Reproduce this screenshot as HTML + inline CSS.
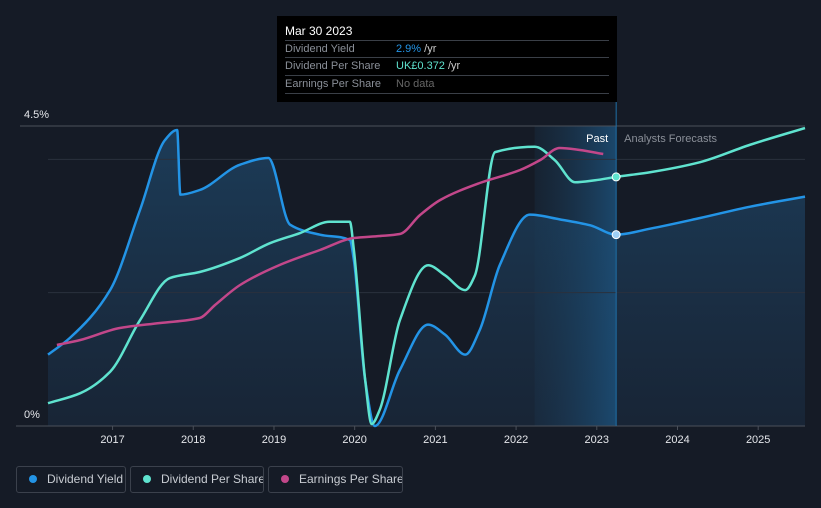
<!DOCTYPE html>
<html><head><meta charset="utf-8"><style>
html,body{margin:0;padding:0;background:#151b26;width:821px;height:508px;overflow:hidden;font-family:"Liberation Sans",sans-serif}
#wrap{position:relative;width:821px;height:508px}
.tip{position:absolute;left:277px;top:16px;width:340px;height:86px;background:#000;color:#fff;font-size:11px}
.tip .row{position:absolute;left:8px;width:324px;border-top:1px solid #3a3f47;height:17px;line-height:17px;color:#8a8f98}
.legend{position:absolute;top:466px;height:27px;border:1px solid #3b414c;border-radius:3px;color:#c8ccd2;font-size:12px;line-height:25px;box-sizing:border-box;white-space:nowrap;overflow:hidden}
.dot{display:inline-block;width:8px;height:8px;border-radius:50%;margin:0 10px 0 12px;vertical-align:0}
</style></head><body><div id="wrap">
<svg id="chart" width="821" height="508" style="position:absolute;left:0;top:0">
<defs>
<linearGradient id="yg" x1="0" y1="0" x2="0" y2="1"><stop offset="0" stop-color="#1f4a6e" stop-opacity="0.7"/><stop offset="1" stop-color="#1a2b40" stop-opacity="0.6"/></linearGradient>
<linearGradient id="fg" x1="0" y1="0" x2="1" y2="0"><stop offset="0" stop-color="#1b3a55" stop-opacity="0.25"/><stop offset="1" stop-color="#1c4f78" stop-opacity="0.85"/></linearGradient>
</defs>
<g id="g"></g>
</svg>
<div class="tip">
<div style="position:absolute;left:8px;top:8px;font-size:12px;color:#fff">Mar 30 2023</div>
<div class="row" style="top:24px">Dividend Yield<span style="position:absolute;left:111px"><span style="color:#2394e6">2.9%</span> <span style="color:#ccc">/yr</span></span></div>
<div class="row" style="top:41px">Dividend Per Share<span style="position:absolute;left:111px"><span style="color:#5fe3cf">UK£0.372</span> <span style="color:#ccc">/yr</span></span></div>
<div class="row" style="top:59px;border-bottom:1px solid #3a3f47">Earnings Per Share<span style="position:absolute;left:111px;color:#666">No data</span></div>
</div>
<div class="legend" style="left:16px;width:110px"><span class="dot" style="background:#2394e6"></span>Dividend Yield</div>
<div class="legend" style="left:130px;width:134px"><span class="dot" style="background:#5fe3cf"></span>Dividend Per Share</div>
<div class="legend" style="left:268px;width:135px"><span class="dot" style="background:#c2478a"></span>Earnings Per Share</div>
</div>
<script>
const yieldYears=[2016.20,2016.47,2016.97,2017.34,2017.65,2017.80,2017.84,2018.08,2018.58,2018.93,2019.20,2019.57,2019.94,2019.99,2020.13,2020.25,2020.56,2020.91,2021.12,2021.37,2021.55,2021.80,2022.17,2022.54,2022.92,2023.24,2023.66,2024.28,2024.90,2025.58];
const yieldValues=[1.07,1.32,2.04,3.24,4.29,4.44,3.47,3.54,3.92,4.02,3.02,2.87,2.79,2.49,0.69,0.0,0.84,1.52,1.37,1.07,1.44,2.42,3.17,3.10,3.01,2.87,2.96,3.12,3.29,3.44];
const dpsYears=[2016.20,2016.60,2016.97,2017.34,2017.71,2018.08,2018.58,2018.95,2019.32,2019.69,2019.94,2019.99,2020.13,2020.21,2020.31,2020.56,2020.91,2021.12,2021.37,2021.49,2021.74,2022.23,2022.48,2022.73,2022.98,2023.24,2023.66,2024.28,2024.90,2025.58];
const dpsValues=[0.034,0.049,0.081,0.158,0.221,0.230,0.251,0.273,0.288,0.305,0.305,0.263,0.069,0.003,0.024,0.158,0.240,0.225,0.203,0.225,0.409,0.417,0.397,0.364,0.367,0.372,0.379,0.394,0.420,0.445];
const epsYears=[2016.31,2016.60,2017.09,2017.59,2018.08,2018.27,2018.58,2019.07,2019.57,2019.99,2020.31,2020.56,2020.81,2021.06,2021.55,2022.05,2022.30,2022.54,2022.79,2023.08];
const epsValues=[0.081,0.086,0.098,0.103,0.108,0.121,0.141,0.161,0.176,0.188,0.190,0.192,0.211,0.226,0.243,0.256,0.266,0.278,0.276,0.272];
const xTicks=[2017,2018,2019,2020,2021,2022,2023,2024,2025];
const yGrid=[2,4];
const NS='http://www.w3.org/2000/svg';
const X0=48,X1=805,YR0=2016.2,YR1=2025.58,YB=426,YT=126;
const x=t=>X0+(t-YR0)/(YR1-YR0)*(X1-X0);
const yY=v=>YB-v/4.5*(YB-YT);
const yD=v=>YB-v/0.448*(YB-YT);
const yE=v=>YB-v/0.3*(YB-YT);
const g=document.getElementById('g');
function el(tag,attrs,parent){const e=document.createElementNS(NS,tag);for(const k in attrs)e.setAttribute(k,attrs[k]);(parent||g).appendChild(e);return e;}
function path(xs,ys){const n=xs.length;const dx=[],s=[];for(let i=0;i<n-1;i++){dx.push(xs[i+1]-xs[i]);s.push((ys[i+1]-ys[i])/dx[i]);}
const m=[s[0]];for(let i=1;i<n-1;i++){if(s[i-1]*s[i]<=0)m.push(0);else{const w1=2*dx[i]+dx[i-1],w2=dx[i]+2*dx[i-1];m.push((w1+w2)/(w1/s[i-1]+w2/s[i]));}}m.push(s[n-2]);
let d=`M${xs[0]},${ys[0]}`;for(let i=0;i<n-1;i++){const h=dx[i]/3;d+=`C${xs[i]+h},${ys[i]+m[i]*h} ${xs[i+1]-h},${ys[i+1]-m[i+1]*h} ${xs[i+1]},${ys[i+1]}`;}return d;}
const nowX=x(2023.24),fX=x(2022.23);
let e;
const yxs=yieldYears.map(x),yys=yieldValues.map(yY);
e=el('path',{d:path(yxs,yys)+`L${yxs[yxs.length-1]},${YB}L${yxs[0]},${YB}Z`,fill:'url(#yg)'});

e=el('rect',{x:fX,y:YT,width:nowX-fX,height:YB-YT,fill:'url(#fg)'});

yGrid.forEach(v=>{e=el('line',{x1:X0,x2:X1,y1:yY(v),y2:yY(v),stroke:'#2a313d','stroke-width':1});
});
e=el('line',{x1:20,x2:X1,y1:YT,y2:YT,stroke:'#4a505a'});
e=el('line',{x1:16,x2:X1,y1:YB,y2:YB,stroke:'#4a505a'});
e=el('line',{x1:nowX,x2:nowX,y1:100,y2:YB,stroke:'#1f6fa8','stroke-width':1});
xTicks.forEach(t=>{e=el('line',{x1:x(t),x2:x(t),y1:YB,y2:YB+4,stroke:'#4a505a'});
e=el('text',{x:x(t),y:YB+17,fill:'#e4e6ea','font-size':11,'text-anchor':'middle'});e.textContent=t;});
e=el('text',{x:24,y:118,fill:'#e4e6ea','font-size':11});e.textContent='4.5%';
e=el('text',{x:24,y:418,fill:'#e4e6ea','font-size':11});e.textContent='0%';
e=el('text',{x:nowX-8,y:142,fill:'#fff','font-size':11,'text-anchor':'end'});e.textContent='Past';
e=el('text',{x:nowX+8,y:142,fill:'#8a8f98','font-size':11});e.textContent='Analysts Forecasts';
e=el('path',{d:path(yxs,yys),fill:'none',stroke:'#2394e6','stroke-width':2.5});
e=el('path',{d:path(dpsYears.map(x),dpsValues.map(yD)),fill:'none',stroke:'#5fe3cf','stroke-width':2.5});
e=el('path',{d:path(epsYears.map(x),epsValues.map(yE)),fill:'none',stroke:'#c2478a','stroke-width':2.5});
e=el('circle',{cx:nowX,cy:yY(2.87),r:4,fill:'#9fd0f5',stroke:'#fff','stroke-width':1});
e=el('circle',{cx:nowX,cy:yD(0.372),r:4,fill:'#5fe3cf',stroke:'#fff','stroke-width':1});
</script></body></html>
